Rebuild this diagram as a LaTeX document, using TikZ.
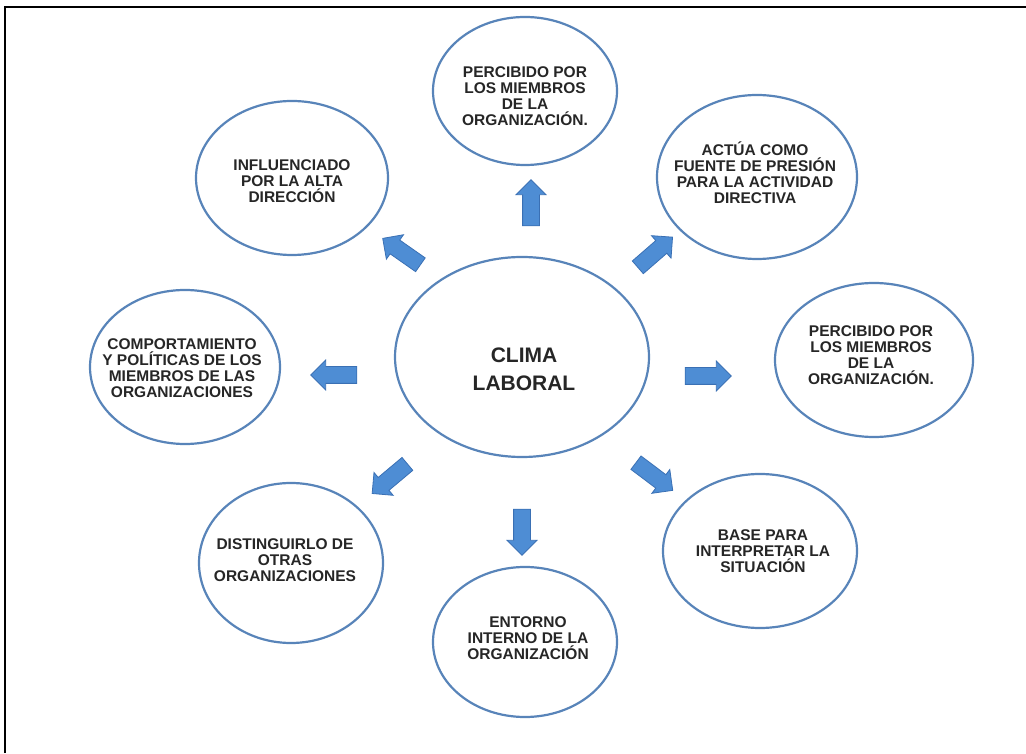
\documentclass[tikz,border=0pt]{standalone}
\usepackage{fontspec}
\setmainfont{Liberation Sans}
\usetikzlibrary{shapes.geometric,shapes.arrows}
\definecolor{ringblue}{RGB}{88,132,185}
\definecolor{arrowfill}{RGB}{78,141,212}
\definecolor{arrowedge}{RGB}{58,112,180}
\tikzset{
  ring/.style={draw=ringblue, line width=2.2pt, ellipse, inner sep=0pt, fill=white},
  ringtext/.style={align=center, font=\bfseries\fontsize{15.5}{16}\selectfont, text=black!85, inner sep=0pt},
  bigtext/.style={align=center, font=\bfseries\fontsize{21}{28}\selectfont, text=black!85, inner sep=0pt},
  blockarrow/.style={single arrow, draw=arrowedge, fill=arrowfill, line width=0.8pt,
    minimum height=46pt, minimum width=29pt, single arrow head extend=6.5pt,
    single arrow head indent=0pt, inner xsep=0pt, inner ysep=8pt},
  frameline/.style={draw=black, line width=2pt}
}
\begin{document}
\begin{tikzpicture}[x=1pt,y=1pt]
\useasboundingbox (0,0) rectangle (1026,753);
\coordinate (fbl) at (5,0);
\coordinate (ftl) at (5,746);
\coordinate (ftr) at (1026,746);
\draw[frameline] (fbl) -- (ftl) -- (ftr);

% ellipses
\node[ring, minimum width=254pt, minimum height=200pt] (c) at (522,396) {};
\node[ring, minimum width=184pt, minimum height=148pt] (n) at (525,662) {};
\node[ring, minimum width=200pt, minimum height=164pt] (ne) at (757,576) {};
\node[ring, minimum width=192pt, minimum height=154pt] (nw) at (292,575) {};
\node[ring, minimum width=190pt, minimum height=154pt] (w) at (185,386) {};
\node[ring, minimum width=198pt, minimum height=154pt] (e) at (874,393) {};
\node[ring, minimum width=184pt, minimum height=160pt] (sw) at (291,190) {};
\node[ring, minimum width=184pt, minimum height=150pt] (s) at (525,111) {};
\node[ring, minimum width=194pt, minimum height=154pt] (se) at (760,202) {};

% texts
\node[bigtext] (ct) at (524,384) {CLIMA\\LABORAL};
\node[ringtext] (nt) at (525,657) {PERCIBIDO POR\\LOS MIEMBROS\\DE LA\\ORGANIZACIÓN.};
\node[ringtext] (net) at (755,580) {ACTÚA COMO\\FUENTE DE PRESIÓN\\PARA LA ACTIVIDAD\\DIRECTIVA};
\node[ringtext] (nwt) at (292,572) {INFLUENCIADO\\POR LA ALTA\\DIRECCIÓN};
\node[ringtext] (wt) at (182,385) {COMPORTAMIENTO\\Y POLÍTICAS DE LOS\\MIEMBROS DE LAS\\ORGANIZACIONES};
\node[ringtext] (et) at (871,398) {PERCIBIDO POR\\LOS MIEMBROS\\DE LA\\ORGANIZACIÓN.};
\node[ringtext] (swt) at (285,193) {DISTINGUIRLO DE\\OTRAS\\ORGANIZACIONES};
\node[ringtext] (st) at (528,115) {ENTORNO\\INTERNO DE LA\\ORGANIZACIÓN};
\node[ringtext] (set) at (763,202) {BASE PARA\\INTERPRETAR LA\\SITUACIÓN};

% block arrows
\node[blockarrow, rotate=90] (an) at (531,546) {};
\node[blockarrow, rotate=41] (ane) at (652,498) {};
\node[blockarrow, rotate=145] (anw) at (405,499) {};
\node[blockarrow, rotate=180] (aw) at (338,378) {};
\node[blockarrow, rotate=0] (ae) at (704,377) {};
\node[blockarrow, rotate=220] (asw) at (393,277) {};
\node[blockarrow, rotate=270] (as) at (522,225) {};
\node[blockarrow, rotate=-37] (ase) at (651,279) {};
\end{tikzpicture}
\end{document}
